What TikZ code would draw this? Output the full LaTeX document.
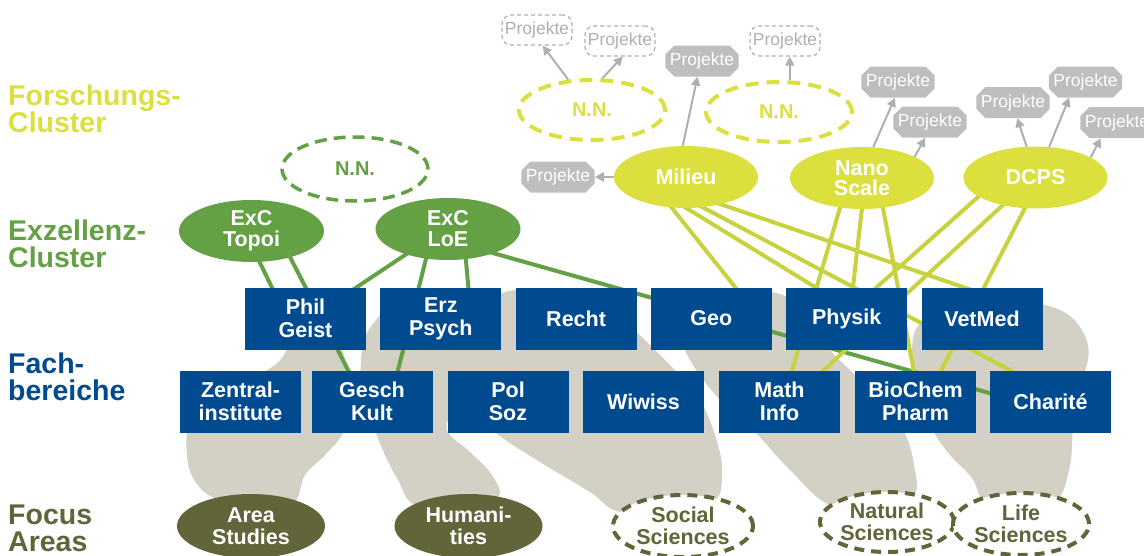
\documentclass[tikz,border=0pt]{standalone}
\usepackage{fontspec}
\setmainfont{Liberation Sans}
\usetikzlibrary{shapes.geometric,shapes.misc,arrows.meta}
\definecolor{fbblue}{RGB}{0,74,143}
\definecolor{excgreen}{RGB}{100,160,68}
\definecolor{fclime}{RGB}{219,224,62}
\definecolor{fcline}{RGB}{200,210,62}
\definecolor{faolive}{RGB}{98,100,58}
\definecolor{blobgray}{RGB}{211,209,197}
\definecolor{projgray}{RGB}{190,190,192}
\definecolor{projtext}{RGB}{176,176,179}
\pgfdeclarelayer{blobs}
\pgfdeclarelayer{links}
\pgfsetlayers{blobs,links,main}
\begin{document}
\begin{tikzpicture}[x=1pt,y=-1pt,
  lbl/.style={anchor=west, align=left, inner sep=0pt, font=\bfseries\fontsize{28.5}{27}\selectfont},
  fb/.style={rectangle, fill=fbblue, text=white, minimum width=121pt, minimum height=62pt,
    inner sep=0pt, align=center, font=\bfseries\fontsize{21.5}{23}\selectfont},
  excl/.style={ellipse, fill=excgreen, text=white, minimum width=145pt, minimum height=62pt,
    inner sep=0pt, align=center, font=\bfseries\fontsize{21.5}{21}\selectfont},
  fcl/.style={ellipse, fill=fclime, text=white, minimum width=144pt, minimum height=62pt,
    inner sep=0pt, align=center, font=\bfseries\fontsize{21.5}{20}\selectfont},
  nnlime/.style={ellipse, draw=fclime, line width=4pt, dash pattern=on 13pt off 8pt,
    text=fclime, minimum width=146pt, minimum height=60pt, inner sep=0pt,
    font=\bfseries\fontsize{20}{20}\selectfont},
  nngreen/.style={ellipse, draw=excgreen, line width=3.5pt, dash pattern=on 12pt off 7pt,
    text=excgreen, minimum width=146pt, minimum height=64pt, inner sep=0pt,
    font=\bfseries\fontsize{20}{20}\selectfont},
  fa/.style={ellipse, fill=faolive, text=white, minimum width=148pt, minimum height=64pt,
    inner sep=0pt, align=center, font=\bfseries\fontsize{21.5}{22}\selectfont},
  fadash/.style={ellipse, draw=faolive, fill=white, line width=4pt, dash pattern=on 10pt off 7pt,
    text=faolive, inner sep=0pt, align=center, font=\bfseries\fontsize{21.5}{22}\selectfont},
  proj/.style={chamfered rectangle, chamfered rectangle xsep=4.5pt, chamfered rectangle ysep=4.5pt,
    fill=projgray, text=white, minimum width=73pt, minimum height=31pt, inner sep=0pt,
    font=\fontsize{17.5}{17}\selectfont},
  projdash/.style={rectangle, rounded corners=9pt, draw=projtext, line width=1.2pt,
    dash pattern=on 4pt off 3pt, fill=white, text=projtext, minimum width=70pt,
    minimum height=30pt, inner sep=0pt, font=\fontsize{17.5}{17}\selectfont},
  arr/.style={draw=projgray!92!black, line width=2pt, -{Triangle[length=9pt,width=9pt]}},
  gl/.style={draw=excgreen, line width=4pt},
  yl/.style={draw=fcline, line width=4pt}
]
\path[clip] (0,0) rectangle (1144,555);

% row titles
\node[lbl, text=fclime]   (tforsch) at (8,109) {Forschungs-\\Cluster};
\node[lbl, text=excgreen] (texz)    at (8,244) {Exzellenz-\\Cluster};
\node[lbl, text=fbblue]   (tfach)   at (8,377) {Fach-\\bereiche};
\node[lbl, text=faolive]  (tfocus)  at (8,528) {Focus\\Areas};

% Fachbereiche, upper row
\node[fb] (phil)   at (305.5,318.5) {Phil\\Geist};
\node[fb] (erz)    at (440.8,318.5) {Erz\\Psych};
\node[fb] (recht)  at (576.1,318.5) {Recht};
\node[fb] (geo)    at (711.4,318.5) {Geo};
\node[fb] (physik) at (846.7,318.5) {Physik};
\node[fb] (vetmed) at (982,318.5)   {VetMed};
% Fachbereiche, lower row
\node[fb] (zentral) at (240.5,401.5)  {Zentral-\\institute};
\node[fb] (gesch)   at (372,401.5)    {Gesch\\Kult};
\node[fb] (polsoz)  at (508,401.5)    {Pol\\Soz};
\node[fb] (wiwiss)  at (643.5,401.5)  {Wiwiss};
\node[fb] (math)    at (779.5,401.5)  {Math\\Info};
\node[fb] (biochem) at (915.5,401.5)  {BioChem\\Pharm};
\node[fb] (charite) at (1050.5,401.5) {Charité};

% Exzellenz-Cluster
\node[excl] (topoi) at (251.5,231) {ExC\\Topoi};
\node[excl] (loe)   at (448,229)   {ExC\\LoE};
\node[nngreen] (nng) at (355,169)  {N.N.};

% Forschungs-Cluster
\node[fcl] (milieu) at (686,177)    {Milieu};
\node[fcl] (nano)   at (862,178)    {Nano\\Scale};
\node[fcl] (dcps)   at (1035.5,177.5) {DCPS};
\node[nnlime] (nna) at (592,110) {N.N.};
\node[nnlime] (nnb) at (779,112) {N.N.};

% Projekte
\node[projdash] (pa) at (537,30)  {Projekte};
\node[projdash] (pb) at (620,41)  {Projekte};
\node[proj]     (pc) at (702,61)  {Projekte};
\node[projdash] (pd) at (785,41)  {Projekte};
\node[proj]     (pe) at (558,177) {Projekte};
\node[proj]     (pf) at (898,82)  {Projekte};
\node[proj]     (pg) at (930,122) {Projekte};
\node[proj]     (ph) at (1013,102.5) {Projekte};
\node[proj]     (pi) at (1085.5,82)  {Projekte};
\node[proj]     (pj) at (1117,122.5) {Projekte};

% Focus Areas
\node[fa] (area) at (251,526)   {Area\\Studies};
\node[fa] (hum)  at (468.5,526) {Humani-\\ties};
\node[fadash, minimum width=140pt, minimum height=62pt] (soc)  at (683,526)  {Social\\Sciences};
\node[fadash, minimum width=134pt, minimum height=60pt] (nat)  at (887,522)  {Natural\\Sciences};
\node[fadash, minimum width=136pt, minimum height=62pt] (life) at (1021,524) {Life\\Sciences};

% cluster projects
\draw[arr] (nna.128) -- (pa.-70);
\draw[arr] (nna.72) -- (pb.-80);
\draw[arr] (milieu.96) -- (pc.-106);
\draw[arr] (nnb.north -| pd.-73) -- (pd.-73);
\draw[arr] (milieu.west) -- (pe.east);
\draw[arr] (nano.70) -- (pf.-101);
\draw[arr] (nano.22) -- (pg.-107);
\draw[arr] (dcps.106) -- (ph.-75);
\draw[arr] (dcps.66) -- (pi.-136);
\draw[arr] (dcps.20) -- (pj.-136);

% connectors between clusters and Fachbereiche
\begin{pgfonlayer}{links}
\draw[gl] ([shift={(-2.5,9)}]topoi.center) -- ([shift={(-27.5,-18.5)}]phil.center);
\draw[gl] ([shift={(29.8,9)}]topoi.center) -- ([shift={(-16.3,-16.5)}]gesch.center);
\draw[gl] ([shift={(-28,16)}]loe.center) -- ([shift={(32,-18.5)}]phil.center);
\draw[gl] ([shift={(-18.5,16)}]loe.center) -- ([shift={(21,-11.5)}]gesch.center);
\draw[gl] ([shift={(16.5,16)}]loe.center) -- ([shift={(29.2,-13.5)}]erz.center);
\draw[gl] ([shift={(32,20.4)}]loe.center) -- ([shift={(-20.5,3)}]charite.center);

\draw[yl] ([shift={(-24.4,18)}]milieu.center) -- ([shift={(34,-18.5)}]geo.center);
\draw[yl] ([shift={(-21,18)}]milieu.center) -- ([shift={(-10.5,-18.5)}]physik.center);
\draw[yl] ([shift={(-6.5,18)}]milieu.center) -- ([shift={(-12.5,-16.5)}]charite.center);
\draw[yl] ([shift={(7.7,18)}]milieu.center) -- ([shift={(19,-18.5)}]vetmed.center);

\draw[yl] ([shift={(-18.2,17)}]nano.center) -- ([shift={(8.3,-16.5)}]math.center);
\draw[yl] ([shift={(1.5,17)}]nano.center) -- ([shift={(4.8,-18.5)}]physik.center);
\draw[yl] ([shift={(18.5,17)}]nano.center) -- ([shift={(1,-16.5)}]biochem.center);

\draw[yl] ([shift={(-49.6,12.5)}]dcps.center) -- ([shift={(15.7,-18.5)}]physik.center);
\draw[yl] ([shift={(-18.5,14.5)}]dcps.center) -- ([shift={(28.2,-16.5)}]math.center);
\draw[yl] ([shift={(-3.8,17.5)}]dcps.center) -- ([shift={(18.2,-16.5)}]biochem.center);
\end{pgfonlayer}

% focus area bands
\begin{pgfonlayer}{blobs}
\fill[blobgray] plot[smooth cycle, tension=0.6] coordinates {
  (295,338) (325,335) (342,350) (348,385) (344,430) (325,455) (305,475) (292,505)
  (250,505) (212,497) (193,478) (187,455) (190,425) (220,395) (275,365)};
\fill[blobgray] plot[smooth cycle, tension=0.6] coordinates {
  (372,325) (400,300) (440,300) (465,330) (470,370) (455,405) (447,430) (470,452)
  (492,475) (498,497) (460,505) (415,505) (398,480) (385,455) (373,425) (362,390) (362,350)};
\fill[blobgray] plot[smooth cycle, tension=0.6] coordinates {
  (505,292) (560,295) (620,320) (665,360) (700,400) (718,445) (722,475) (716,500)
  (685,515) (620,512) (590,492) (540,462) (495,432) (470,400) (465,360) (480,320)};
\fill[blobgray] plot[smooth cycle, tension=0.6] coordinates {
  (690,300) (770,292) (800,310) (830,350) (870,390) (903,430) (914,465) (914,495)
  (880,505) (830,505) (790,470) (755,432) (720,400) (690,360) (675,320)};
\fill[blobgray] plot[smooth cycle, tension=0.6] coordinates {
  (925,320) (990,300) (1060,310) (1088,345) (1080,390) (1073,430) (1070,465) (1057,500)
  (1020,510) (985,502) (972,478) (950,455) (933,430) (920,390) (912,350)};
\end{pgfonlayer}
\end{tikzpicture}
\end{document}
